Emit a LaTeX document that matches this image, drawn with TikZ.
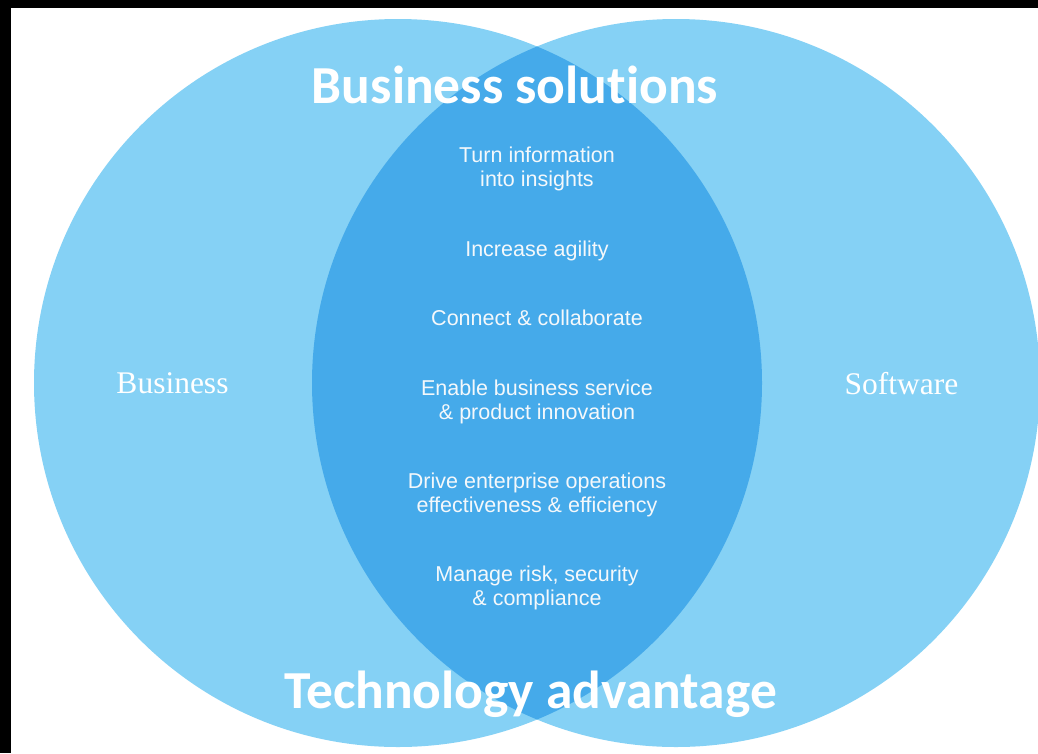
\documentclass[tikz,border=0pt]{standalone}
\usepackage{fontspec}
\setmainfont{Liberation Serif}
\newfontfamily\headfont[Ligatures=NoCommon]{Carlito}
\newfontfamily\itemfont{Liberation Sans}
\definecolor{lightblue}{HTML}{85D1F5}
\definecolor{lensblue}{HTML}{45AAEA}
\definecolor{itemwhite}{HTML}{F4F8FB}
\begin{document}
\begin{tikzpicture}[x=1pt,y=-1pt,
  heading/.style={font=\headfont\bfseries\fontsize{53.5}{60}\selectfont, text=white, inner sep=0pt, anchor=base},
  item/.style={font=\itemfont\fontsize{21.5}{23.5}\selectfont, text=itemwhite, align=center, inner sep=0pt, anchor=base},
  setlabel/.style={font=\fontsize{31.5}{36}\selectfont, text=white, inner sep=0pt, anchor=base}]
\useasboundingbox (0,0) rectangle (1038,753);
\fill[white] (0,0) rectangle (1038,753);
\fill[black] (0,0) rectangle (1038,8);
\fill[black] (0,0) rectangle (11,753);
\coordinate (cl) at (398,383);
\coordinate (cr) at (676,383);
\fill[lightblue] (cl) circle[radius=364pt];
\fill[lightblue] (cr) circle[radius=364pt];
\begin{scope}
  \clip (cl) circle[radius=364pt];
  \fill[lensblue] (cr) circle[radius=364pt];
\end{scope}
\node[heading] (bs) at (515,103) {Business solutions};
\node[heading] (ta) at (530.5,708) {Technology advantage};
\node[setlabel] (biz) at (172.5,393) {Business};
\node[setlabel] (sw) at (901.5,394) {Software};
\node[item] (i1) at (537,186) {Turn information\\into insights};
\node[item] (i2) at (537,256) {Increase agility};
\node[item] (i3) at (537,325) {Connect \& collaborate};
\node[item] (i4) at (537,419) {Enable business service\\\& product innovation};
\node[item] (i5) at (537,512) {Drive enterprise operations\\effectiveness \& efficiency};
\node[item] (i6) at (537,605) {Manage risk, security\\\& compliance};
\end{tikzpicture}
\end{document}
